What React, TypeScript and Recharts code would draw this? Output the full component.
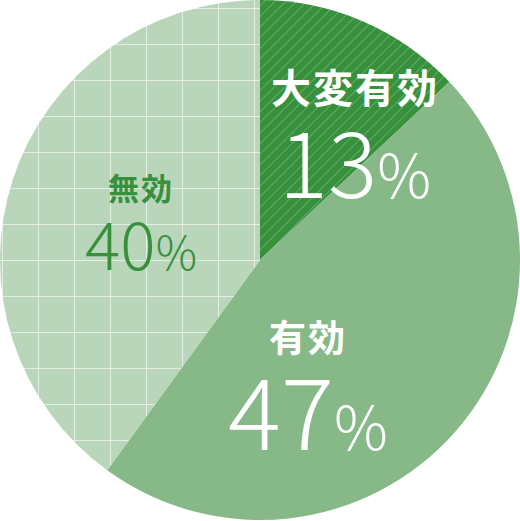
import { PieChart, Pie, Cell } from 'recharts';

const categories = ['大変有効', '有効', '無効'];
const shares = [13, 47, 40];

const data = categories.map((name, i) => ({ name, value: shares[i] }));

const fills = ['url(#stripes)', '#86b987', 'url(#grid)'];

// label placement relative to the pie centre, one per slice
const labelLayout = [
  { dx: 95, titleY: -157, valueY: -62, titleSize: 40, numSize: 92, pctSize: 60, color: '#ffffff' },
  { dx: 48, titleY: 92, valueY: 190, titleSize: 37, numSize: 99, pctSize: 60, color: '#ffffff' },
  { dx: -119, titleY: -60, valueY: 10, titleSize: 31, numSize: 66, pctSize: 46, color: '#37903c' },
];

const FONT = '"Noto Sans CJK JP", "Noto Sans", sans-serif';

function renderLabel(props: any) {
  const { cx, cy, index, name, value } = props;
  const l = labelLayout[index];
  const x = cx + l.dx;
  return (
    <g>
      <text
        x={x}
        y={cy + l.titleY}
        textAnchor="middle"
        fill={l.color}
        fontFamily={FONT}
        fontWeight={700}
        fontSize={l.titleSize}
        letterSpacing={2}
      >
        {name}
      </text>
      <text
        x={x}
        y={cy + l.valueY}
        textAnchor="middle"
        fill={l.color}
        fontFamily={FONT}
        fontWeight={300}
      >
        <tspan fontSize={l.numSize}>{value}</tspan>
        <tspan fontSize={l.pctSize}>%</tspan>
      </text>
    </g>
  );
}

export default function App() {
  return (
    <div style={{ position: 'fixed', left: 0, top: 0, width: 520, height: 521, background: '#fff' }}>
      <PieChart width={520} height={521} margin={{ top: 0, right: 0, bottom: 0, left: 0 }}>
        <defs>
          <pattern
            id="stripes"
            patternUnits="userSpaceOnUse"
            width={7.5}
            height={7.5}
            patternTransform="rotate(45)"
          >
            <rect width={7.5} height={7.5} fill="#37903c" />
            <line x1={0} y1={0} x2={0} y2={7.5} stroke="#ffffff" strokeOpacity={0.28} strokeWidth={1.6} />
          </pattern>
          <pattern id="grid" patternUnits="userSpaceOnUse" x={2} y={8} width={36} height={36}>
            <rect width={36} height={36} fill="#b9d6bb" />
            <line x1={0} y1={0} x2={36} y2={0} stroke="#ffffff" strokeOpacity={0.6} strokeWidth={2} />
            <line x1={0} y1={0} x2={0} y2={36} stroke="#ffffff" strokeOpacity={0.6} strokeWidth={2} />
          </pattern>
        </defs>
        <Pie
          data={data}
          dataKey="value"
          nameKey="name"
          cx={260}
          cy={260}
          innerRadius={0}
          outerRadius={260}
          startAngle={90}
          endAngle={-270}
          stroke="none"
          label={renderLabel}
          labelLine={false}
          isAnimationActive={false}
        >
          {data.map((d, i) => (
            <Cell key={d.name} fill={fills[i]} stroke="none" />
          ))}
        </Pie>
      </PieChart>
    </div>
  );
}
